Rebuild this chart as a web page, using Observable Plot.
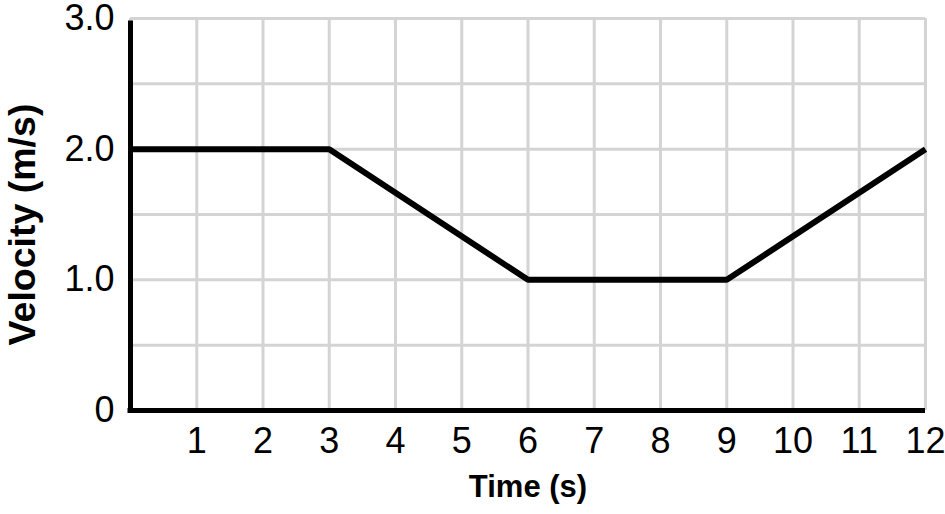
<!DOCTYPE html>
<html>
<head>
<meta charset="utf-8">
<script src="https://cdn.jsdelivr.net/npm/d3@7"></script>
<script src="https://cdn.jsdelivr.net/npm/@observablehq/plot@0.6"></script>
<style>
  html, body { margin: 0; padding: 0; background: #fff; }
  #chart svg { display: block; overflow: visible; }
</style>
</head>
<body>
<div id="chart"></div>
<script>
const time = [0, 3, 6, 9, 12];
const velocity = [2, 2, 1, 1, 2];
const xTicks = [1, 2, 3, 4, 5, 6, 7, 8, 9, 10, 11, 12];
const yTicks = [0, 1, 2, 3];
const yTickLabels = ["0", "1.0", "2.0", "3.0"];
const xGrid = [0, 1, 2, 3, 4, 5, 6, 7, 8, 9, 10, 11, 12];
const yGrid = [0, 0.5, 1, 1.5, 2, 2.5, 3];
const xTitle = "Time (s)";
const yTitle = "Velocity (m/s)";

const data = time.map((t, i) => ({t, v: velocity[i]}));
const font = "Liberation Sans, Arial, Helvetica, sans-serif";

const chart = Plot.plot({
  width: 945,
  height: 514,
  marginLeft: 130,
  marginRight: 20,
  marginTop: 18,
  marginBottom: 104,
  style: {fontFamily: font, color: "#000", background: "#fff", overflow: "visible"},
  x: {domain: [0, 12]},
  y: {domain: [0, 3]},
  marks: [
    Plot.ruleX(xGrid, {stroke: "#d4d4d4", strokeWidth: 3}),
    Plot.ruleY(yGrid, {stroke: "#d4d4d4", strokeWidth: 3}),
    Plot.axisX(xTicks, {tickSize: 0, tickPadding: 17, fontSize: 36, label: null}),
    Plot.axisY(yTicks, {tickSize: 0, tickPadding: 16, fontSize: 36, label: null,
      tickFormat: d => yTickLabels[yTicks.indexOf(d)]}),
    Plot.ruleX([0], {stroke: "#000", strokeWidth: 5, y1: 0, y2: 3, insetBottom: -2.5}),
    Plot.ruleY([0], {stroke: "#000", strokeWidth: 5, insetLeft: -2.5}),
    Plot.line(data, {x: "t", y: "v", stroke: "#000", strokeWidth: 6, strokeLinejoin: "miter", strokeLinecap: "butt"}),
    Plot.text([xTitle], {frameAnchor: "bottom", dy: 77, fontSize: 31, fontWeight: "bold", lineAnchor: "middle", textAnchor: "middle", fill: "#000"}),
    Plot.text([yTitle], {frameAnchor: "left", dx: -108, dy: 10, rotate: -90, fontSize: 37.5, fontWeight: "bold", lineAnchor: "middle", textAnchor: "middle", fill: "#000"})
  ]
});
document.getElementById("chart").appendChild(chart);
</script>
</body>
</html>
